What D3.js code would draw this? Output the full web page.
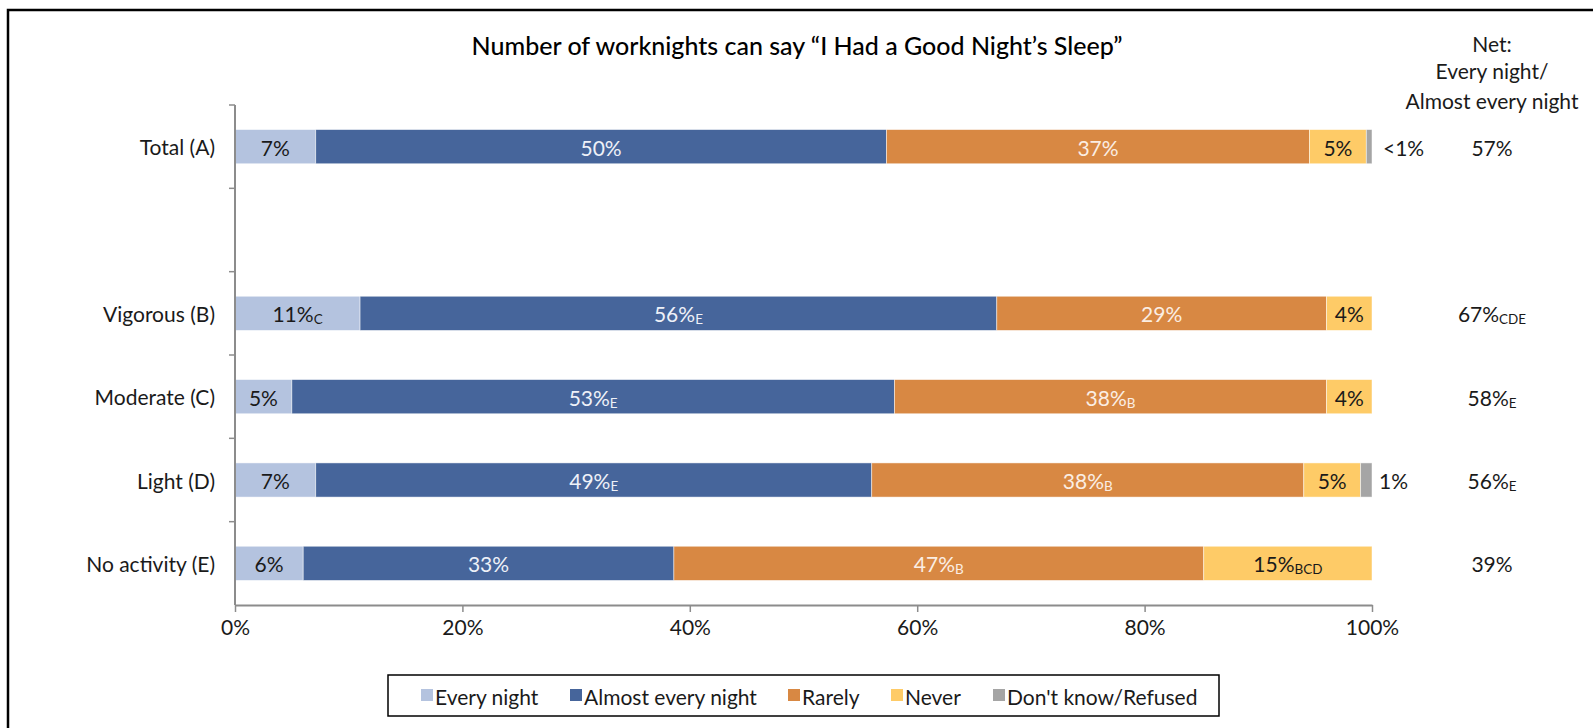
<!DOCTYPE html>
<html><head><meta charset="utf-8">
<script src="https://cdn.jsdelivr.net/npm/d3@7"></script>
<style>
html,body{margin:0;padding:0;background:#fff;}
svg{display:block;font-family:Lato,"Open Sans",sans-serif;}
</style></head>
<body>
<svg id="chart" width="1593" height="728"></svg>
<script>
const categories = ["Total (A)", "", "Vigorous (B)", "Moderate (C)", "Light (D)", "No activity (E)"];
const seriesNames = ["Every night", "Almost every night", "Rarely", "Never", "Don't know/Refused"];
const colors = ["#b4c3df", "#46659b", "#d88843", "#fecb67", "#a5a5a5"];
// values per category (percent), order of seriesNames
const everyNight      = [7.1, null, 11.0, 5.0, 7.1, 6.0];
const almostEvery     = [50.2, null, 56.0, 53.0, 48.9, 32.6];
const rarely          = [37.2, null, 29.0, 38.0, 38.0, 46.6];
const never           = [5.0, null, 4.0, 4.0, 5.0, 14.8];
const dontKnow        = [0.5, null, 0, 0, 1.0, 0];
// labels inside segments: [main, subscript]
const everyNightLbl   = [["7%",""], null, ["11%","C"], ["5%",""], ["7%",""], ["6%",""]];
const almostEveryLbl  = [["50%",""], null, ["56%","E"], ["53%","E"], ["49%","E"], ["33%",""]];
const rarelyLbl       = [["37%",""], null, ["29%",""], ["38%","B"], ["38%","B"], ["47%","B"]];
const neverLbl        = [["5%",""], null, ["4%",""], ["4%",""], ["5%",""], ["15%","BCD"]];
const dontKnowLbl     = [["<1%",""], null, null, null, ["1%",""], null];
const netLbl          = [["57%",""], null, ["67%","CDE"], ["58%","E"], ["56%","E"], ["39%",""]];
const netHeader       = ["Net:", "Every night/", "Almost every night"];
const xTicks = [0, 20, 40, 60, 80, 100];
const title = "Number of worknights can say \u201CI Had a Good Night\u2019s Sleep\u201D";

const svg = d3.select("#chart");
const keys = ["c0","c1","c2","c3","c4","c5"];
const x = d3.scaleLinear().domain([0, 100]).range([235, 1372]);
const y = d3.scaleBand().domain(keys).range([105, 605]).paddingInner(0.59).paddingOuter(0.295);
const axisColor = "#8c8c8c";
const textColor = "#1a1a1a";
const fs = 21;

// frame
svg.append("rect").attr("x", 8).attr("y", 10).attr("width", 1700).attr("height", 900)
  .attr("fill", "none").attr("stroke", "#000").attr("stroke-width", 2.5);

// title
svg.append("text").attr("x", 797).attr("y", 55).attr("text-anchor", "middle")
  .attr("font-size", 25).attr("font-weight", 500).attr("fill", "#000").text(title);

// net header
netHeader.forEach((t, i) => {
  svg.append("text").attr("x", 1492).attr("y", [52, 79, 109][i]).attr("text-anchor", "middle")
    .attr("font-size", fs).attr("fill", textColor).text(t);
});

// data table
const seriesVals = [everyNight, almostEvery, rarely, never, dontKnow];
const seriesLbls = [everyNightLbl, almostEveryLbl, rarelyLbl, neverLbl, dontKnowLbl];
const lblColors = ["#1a1a1a", "#eef1f8", "#fbeee3", "#1a1a1a"];

function addLabel(sel, xPos, yPos, lbl, color, anchor, size) {
  const t = sel.append("text").attr("x", xPos).attr("y", yPos).attr("text-anchor", anchor)
    .attr("font-size", size).attr("fill", color).attr("dominant-baseline", "central");
  t.append("tspan").text(lbl[0]);
  if (lbl[1]) t.append("tspan").attr("font-size", size * 0.64).attr("dy", 6).text(lbl[1]);
  return t;
}

const g = svg.append("g");
keys.forEach((k, ci) => {
  if (seriesVals[0][ci] == null) return;
  let cum = 0;
  seriesVals.forEach((sv, si) => {
    const v = sv[ci];
    if (!v) return;
    const x0 = x(cum), x1 = x(cum + v);
    g.append("rect").attr("x", x0).attr("y", y(k)).attr("width", x1 - x0).attr("height", y.bandwidth())
      .attr("fill", colors[si]).attr("stroke", "#fff").attr("stroke-width", 0.8).attr("stroke-opacity", 0.6);
    const lbl = seriesLbls[si][ci];
    const yc = y(k) + y.bandwidth() / 2;
    if (lbl && si < 4) {
      addLabel(g, (x0 + x1) / 2, yc, lbl, lblColors[si], "middle", fs);
    } else if (lbl && si === 4) {
      addLabel(g, x(100) + (lbl[0].startsWith("<") ? 11 : 7), yc, lbl, textColor, "start", fs);
    }
    cum += v;
  });
  const nl = netLbl[ci];
  if (nl) addLabel(g, 1492, y(k) + y.bandwidth() / 2, nl, textColor, "middle", fs);
});

// y axis
const ya = svg.append("g");
ya.append("line").attr("x1", x(0)).attr("x2", x(0)).attr("y1", 105).attr("y2", 605)
  .attr("stroke", axisColor).attr("stroke-width", 2);
keys.forEach((k, i) => {
  const yb = y(k) - y.step() * y.paddingInner() / 2;
  ya.append("line").attr("x1", x(0) - 6).attr("x2", x(0)).attr("y1", yb).attr("y2", yb)
    .attr("stroke", axisColor).attr("stroke-width", 1.5);
  ya.append("text").attr("x", 215).attr("y", y(k) + y.bandwidth() / 2).attr("text-anchor", "end")
    .attr("dominant-baseline", "central").attr("font-size", fs).attr("fill", textColor).text(categories[i]);
});

// x axis
const xa = svg.append("g").attr("transform", "translate(0,605)")
  .call(d3.axisBottom(x).tickValues(xTicks).tickSize(7).tickSizeOuter(0).tickPadding(8).tickFormat(d => d + "%"));
xa.select(".domain").attr("stroke", axisColor).attr("stroke-width", 2);
xa.selectAll(".tick line").attr("stroke", axisColor).attr("stroke-width", 1.5);
xa.selectAll(".tick text").attr("font-size", fs).attr("fill", textColor).attr("font-family", "Lato, sans-serif");

// legend
const lg = svg.append("g");
lg.append("rect").attr("x", 388).attr("y", 675).attr("width", 831).attr("height", 41)
  .attr("fill", "#fff").attr("stroke", "#000").attr("stroke-width", 1.5);
const legX = [421, 570, 788, 891, 993];
seriesNames.forEach((n, i) => {
  lg.append("rect").attr("x", legX[i]).attr("y", 689).attr("width", 12).attr("height", 12).attr("fill", colors[i]);
  lg.append("text").attr("x", legX[i] + 14).attr("y", 696).attr("dominant-baseline", "central")
    .attr("font-size", fs).attr("fill", textColor).text(n);
});
</script>
</body></html>
